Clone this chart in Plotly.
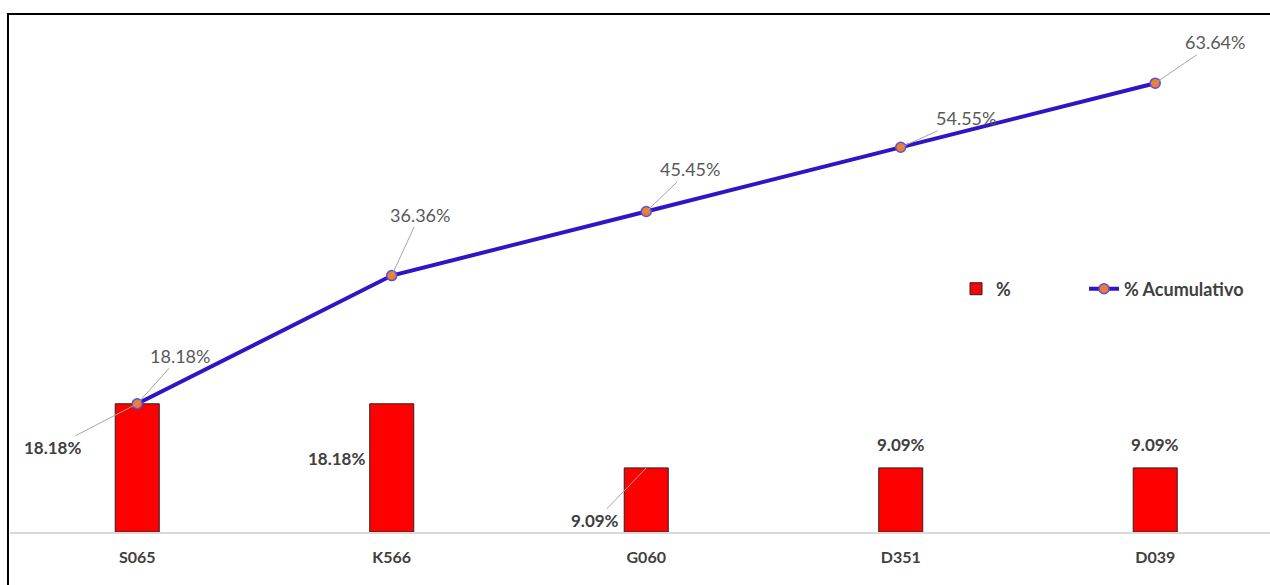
import plotly.graph_objects as go

categories = ["S065", "K566", "G060", "D351", "D039"]
pct_values = [18.18, 18.18, 9.09, 9.09, 9.09]
cum_values = [18.18, 36.36, 45.45, 54.55, 63.64]
series_names = ["%", "% Acumulativo"]

# label offsets (pixels) relative to the data point
cum_label_offsets = [(43, -48), (28, -61), (44, -42), (65, -29), (60, -41)]
pct_label_offsets = [(-85, 44), (-55, 55), (-51, 53), (0, -23), (0, -23)]
pct_label_leader = [True, False, True, False, False]
cum_label_leader = [True, True, True, True, True]

FONT = "Lato, 'Open Sans', sans-serif"

fig = go.Figure()
fig.add_trace(go.Bar(
    x=categories, y=pct_values, name=series_names[0],
    width=0.173, legend="legend",
    marker=dict(color="#FF0000", line=dict(color="#262626", width=1)),
))
fig.add_trace(go.Scatter(
    x=categories, y=cum_values, name=series_names[1],
    mode="lines+markers", legend="legend2",
    line=dict(color="#3214C4", width=4),
    marker=dict(size=10, color="#ED7D31", line=dict(color="#5A4FE0", width=1.5)),
))

annotations = []
for c, v, (ax, ay), lead in zip(categories, cum_values, cum_label_offsets, cum_label_leader):
    annotations.append(dict(
        x=c, y=v, xref="x", yref="y", text=f"{v:.2f}%",
        showarrow=True, ax=ax, ay=ay, arrowhead=0, arrowwidth=1, standoff=0,
        arrowcolor="#A6A6A6" if lead else "rgba(0,0,0,0)",
        font=dict(family=FONT, size=18, color="#595959"),
    ))
for c, v, (ax, ay), lead in zip(categories, pct_values, pct_label_offsets, pct_label_leader):
    annotations.append(dict(
        x=c, y=v, xref="x", yref="y", text=f"{v:.2f}%",
        showarrow=True, ax=ax, ay=ay, arrowhead=0, arrowwidth=1, standoff=0,
        arrowcolor="#A6A6A6" if lead else "rgba(0,0,0,0)",
        font=dict(family=FONT, size=17, color="#404040", weight="bold"),
    ))

legend_font = dict(family=FONT, size=18, color="#404040", weight="bold")

fig.update_layout(
    width=1270, height=585, autosize=False,
    margin=dict(l=10, r=0, t=20, b=53),
    paper_bgcolor="white", plot_bgcolor="white",
    font=dict(family=FONT),
    showlegend=True,
    legend=dict(
        orientation="h", x=0.7508, xanchor="left", y=0.4746, yanchor="middle",
        font=legend_font, bgcolor="rgba(0,0,0,0)",
    ),
    legend2=dict(
        orientation="h", x=0.8524, xanchor="left", y=0.4746, yanchor="middle",
        font=legend_font, bgcolor="rgba(0,0,0,0)",
    ),
    xaxis=dict(
        type="category", range=[-0.5, 4.451],
        showgrid=False, zeroline=False,
        showline=True, linecolor="#D9D9D9", linewidth=2,
        ticks="", ticklabelstandoff=10,
        tickfont=dict(family=FONT, size=16, color="#404040", weight="bold"),
    ),
    yaxis=dict(
        range=[0, 72.6], showgrid=False, zeroline=False,
        showticklabels=False, showline=False, ticks="",
    ),
    annotations=annotations,
    shapes=[
        dict(type="line", xref="paper", yref="paper",
             x0=-0.0016, x1=-0.0016, y0=-0.11, y1=1.0117,
             line=dict(color="black", width=2)),
        dict(type="line", xref="paper", yref="paper",
             x0=-0.0024, x1=1.01, y0=1.0117, y1=1.0117,
             line=dict(color="black", width=2)),
    ],
)

fig.write_html(
    "out.html",
    config={"displayModeBar": False},
    post_script="document.body.style.margin='0px';document.body.style.overflow='hidden';",
)
